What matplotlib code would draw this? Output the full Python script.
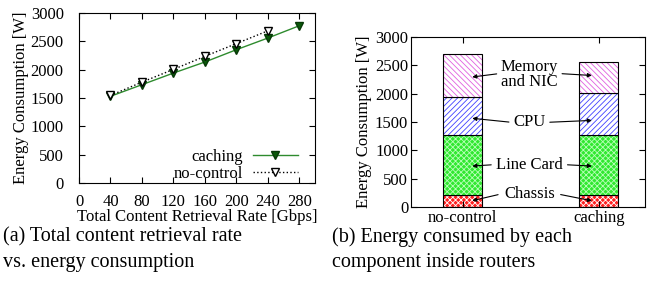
import matplotlib.pyplot as plt
import numpy as np

plt.rcParams['font.family'] = ['Liberation Serif', 'DejaVu Serif']
plt.rcParams['hatch.linewidth'] = 0.6

# (a) total content retrieval rate vs energy
rate_caching = [40, 80, 120, 160, 200, 240, 280]
energy_caching = [1530, 1735, 1940, 2135, 2352, 2558, 2775]
rate_nocontrol = [40, 80, 120, 160, 200, 240]
energy_nocontrol = [1545, 1780, 2005, 2235, 2460, 2685]

# (b) per-component energy
schemes = ['no-control', 'caching']
components = ['Chassis', 'Line Card', 'CPU', 'Memory\nand NIC']
chassis = [205, 205]
line_card = [1072, 1072]
cpu = [665, 730]
memory_nic = [758, 555]

fs = 12

fig = plt.figure(figsize=(6.58, 2.97), dpi=100)

# ---- left panel
ax1 = fig.add_axes([79 / 658, 1 - 183 / 297, 236 / 658, 170 / 297])
ax1.plot(rate_caching, energy_caching, 'v', linestyle='-', linewidth=1, markersize=5.5,
         color='#2e8b2e', markerfacecolor='#0a5a0a', markeredgecolor='#063806', label='caching')
ax1.plot(rate_nocontrol, energy_nocontrol, 'v', linestyle=':', linewidth=1, markersize=5.5,
         color='k', markerfacecolor='white', markeredgecolor='k', label='no-control')
ax1.set_xlim(0, 300)
ax1.set_ylim(0, 3000)
ax1.set_xticks(np.arange(0, 281, 40))
ax1.set_yticks(np.arange(0, 3001, 500))
ax1.tick_params(axis='y', direction='in', right=True, labelsize=fs, length=4, pad=11)
ax1.tick_params(axis='x', direction='in', top=True, labelsize=fs, length=4, pad=8)
ax1.set_xlabel('Total Content Retrieval Rate [Gbps]', fontsize=fs, labelpad=-1)
ax1.set_ylabel('Energy Consumption [W]', fontsize=fs, labelpad=1)
ax1.legend(loc='lower right', frameon=False, markerfirst=False, fontsize=fs,
           handlelength=2.7, handletextpad=0.6, borderaxespad=0.0, borderpad=0.05,
           labelspacing=0.05, bbox_to_anchor=(0.93, 0.0))

# ---- right panel
ax2 = fig.add_axes([411 / 658, 1 - 207 / 297, 234 / 658, 170 / 297])
x = np.arange(len(schemes))
w = 0.285
segments = [chassis, line_card, cpu, memory_nic]
faces = ['#ff2020', '#30e830', 'white', 'white']
hatches = ['xxxxxx', 'xxxxxx', '//////', '\\\\\\\\\\\\']
hcolors = ['white', '#b8ffb8', '#4040ff', '#e060e0']
bottom = np.zeros(len(schemes))
for seg, fc, h, hc in zip(segments, faces, hatches, hcolors):
    ax2.bar(x, seg, w, bottom=bottom, color=fc, hatch=h, edgecolor=hc, linewidth=0)
    ax2.bar(x, seg, w, bottom=bottom, fill=False, edgecolor='k', linewidth=0.8)
    bottom += np.array(seg)

ax2.set_xlim(-0.38, 1.34)
ax2.set_ylim(0, 3000)
ax2.set_xticks(x)
ax2.set_xticklabels(schemes)
ax2.set_yticks(np.arange(0, 3001, 500))
ax2.tick_params(direction='in', top=True, right=True, labelsize=fs, length=4)
ax2.tick_params(axis='y', pad=2)
ax2.tick_params(axis='x', pad=2)
ax2.set_ylabel('Energy Consumption [W]', fontsize=fs, labelpad=2)

# labels with arrows to both bars
mid = 0.49
label_y = [229, 747, 1494, 2335]
half_w = [0.21, 0.26, 0.13, 0.22]
targets = [[100, 100], [720, 720], [1570, 1530], [2288, 2318]]
arrow = dict(arrowstyle='-|>', color='k', lw=0.8, mutation_scale=6)
for name, ly, hw, tg in zip(components, label_y, half_w, targets):
    ax2.text(mid, ly, name, ha='center', va='center', fontsize=fs, linespacing=0.95)
    ay = ly if '\n' not in name else ly + 20
    ax2.annotate('', xy=(x[0] + 0.05, tg[0]), xytext=(mid - hw, ay), arrowprops=arrow)
    ax2.annotate('', xy=(x[1] - 0.03, tg[1]), xytext=(mid + hw, ay), arrowprops=arrow)

# captions
cfs = 14.5
fig.text(3 / 658, 1 - 237 / 297, '(a) Total content retrieval rate', fontsize=cfs, va='center')
fig.text(3 / 658, 1 - 262 / 297, 'vs. energy consumption', fontsize=cfs, va='center')
fig.text(332 / 658, 1 - 237 / 297, '(b) Energy consumed by each', fontsize=cfs, va='center')
fig.text(332 / 658, 1 - 262 / 297, 'component inside routers', fontsize=cfs, va='center')

plt.savefig('out.png', dpi=100)
